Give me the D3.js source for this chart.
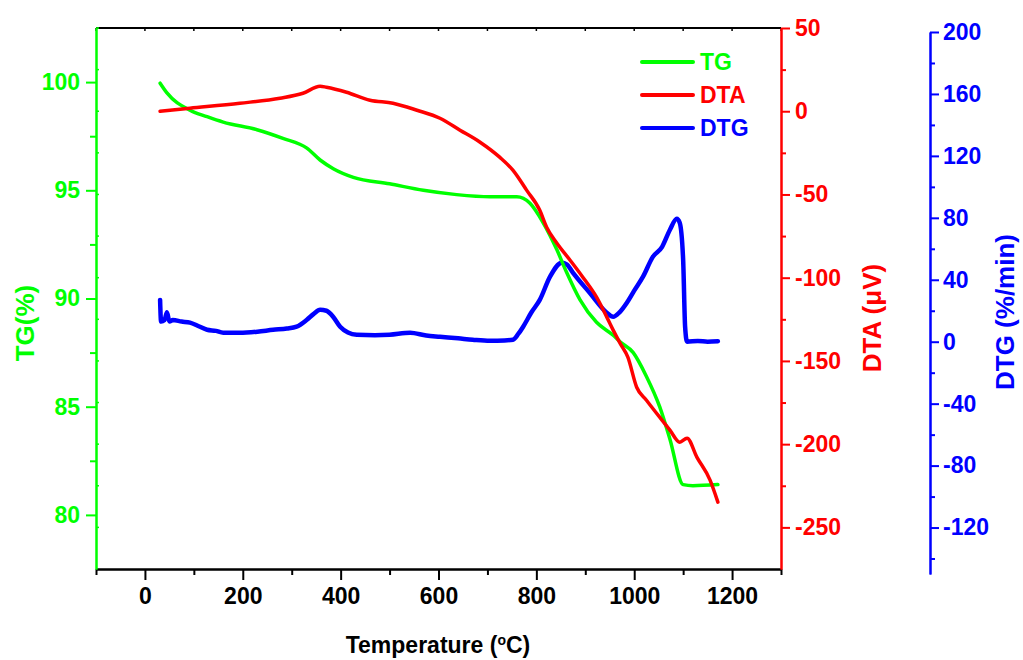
<!DOCTYPE html>
<html>
<head>
<meta charset="utf-8">
<script src="https://cdn.jsdelivr.net/npm/d3@7"></script>
<style>
  html, body { margin: 0; padding: 0; background: #fff; }
  svg { display: block; }
  text { font-family: "Liberation Sans", Arial, sans-serif; font-weight: bold; }
</style>
</head>
<body>
<svg id="chart" width="1023" height="660"></svg>
<script>
// Thermal analysis: TG (mass %), DTA (µV) and DTG (%/min) versus temperature.
const tgTemp   = [31, 45, 92, 127, 160, 229, 282, 331, 358, 385, 426, 500, 569, 637, 705, 760, 787, 814, 842, 862, 889, 923, 957, 971, 998, 1025, 1052, 1073, 1100, 1120, 1171];
const tgValues = [99.95, 99.5, 98.7, 98.4, 98.15, 97.8, 97.4, 96.95, 96.4, 96.0, 95.6, 95.3, 95.0, 94.8, 94.7, 94.7, 94.4, 93.5, 92.25, 91.2, 89.95, 88.9, 88.3, 88.0, 87.5, 86.4, 85.0, 83.5, 81.4, 81.35, 81.4];

const dtaTemp   = [31, 92, 194, 276, 323, 358, 371, 412, 460, 507, 556, 603, 644, 685, 725, 752, 780, 807, 821, 842, 869, 895, 923, 944, 957, 971, 987, 1005, 1025, 1052, 1073, 1093, 1108, 1128, 1155, 1171];
const dtaValues = [0, 1.8, 4.8, 7.8, 10.8, 15, 14.4, 11.4, 6.6, 4.8, 0.6, -4.2, -11.4, -18.6, -27.6, -35.4, -47.4, -59.5, -69.7, -79.3, -89.5, -99.7, -111.7, -123.7, -131.5, -139.3, -147.7, -165.8, -173.6, -183.8, -191.6, -198.8, -196.4, -207.8, -221.6, -234.8];

const dtgTemp   = [31, 33, 40, 45, 50, 57, 75, 92, 110, 127, 145, 160, 194, 230, 262, 290, 310, 331, 345, 358, 371, 385, 399, 415, 433, 470, 500, 542, 575, 603, 640, 670, 705, 735, 752, 763, 773, 790, 807, 828, 852, 862, 875, 909, 944, 957, 970, 985, 1000, 1018, 1038, 1057, 1073, 1087, 1093, 1100, 1104, 1108, 1130, 1150, 1171];
const dtgValues = [27, 13, 14, 19, 13, 14, 13, 12.3, 10, 7.7, 7, 5.8, 5.8, 6.5, 7.7, 8.5, 9.7, 14.2, 18, 20.6, 20, 16, 9.7, 6, 4.5, 4.2, 4.5, 5.8, 4, 3.2, 2.2, 1.3, 0.6, 0.8, 1.3, 5, 9.7, 19, 27, 42, 51, 50, 44.5, 31.6, 18.7, 16.1, 19, 25.2, 33, 42, 54.8, 61.3, 72.3, 79.4, 76.8, 52.9, 9.7, 0, 0.5, 0, 0.3];

const xTicks      = [0, 200, 400, 600, 800, 1000, 1200];
const xMinorTicks = [-100, 100, 300, 500, 700, 900, 1100, 1300];
const tgTicks      = [80, 85, 90, 95, 100];
const tgMinorTicks = [82.5, 87.5, 92.5, 97.5];
const dtaTicks      = [50, 0, -50, -100, -150, -200, -250];
const dtaMinorTicks = [25, -25, -75, -125, -175, -225];
const dtgTicks      = [200, 160, 120, 80, 40, 0, -40, -80, -120];
const dtgMinorTicks = [180, 140, 100, 60, 20, -20, -60, -100, -140];

const GREEN = "#00ff00", RED = "#ff0000", BLUE = "#0000ff";
const fmt = d => String(d); // plain hyphen-minus for negatives

const svg = d3.select("#chart");
const plotL = 96, plotR = 781, plotT = 28, plotB = 569;

const x    = d3.scaleLinear().domain([-100, 1300]).range([plotL, plotR]);
const yTG  = d3.scaleLinear().domain([77.5, 102.5]).range([plotB, plotT]);
const yDTA = d3.scaleLinear().domain([-275, 50]).range([plotB, plotT]);
const yDTG = d3.scaleLinear().domain([-150, 200]).range([574, 32]);

function styleAxis(g, color, fontSize) {
  g.select(".domain").attr("stroke", color).attr("stroke-width", 2);
  g.selectAll(".tick line").attr("stroke", color).attr("stroke-width", 2);
  g.selectAll(".tick text").attr("fill", color).style("font-size", fontSize + "px").style("font-weight", "bold");
}

// top frame line with small inward ticks
svg.append("line").attr("x1", plotL).attr("x2", plotR).attr("y1", plotT).attr("y2", plotT)
  .attr("stroke", "#000").attr("stroke-width", 2);
svg.append("g").selectAll("line").data(xTicks.concat(xMinorTicks)).join("line")
  .attr("x1", d => x(d)).attr("x2", d => x(d)).attr("y1", plotT).attr("y2", plotT + 3)
  .attr("stroke", "#000").attr("stroke-width", 1.5);

// inner ticks on left axis (mirrored DTA scale)
svg.append("g").selectAll("line").data(dtaTicks.concat(dtaMinorTicks)).join("line")
  .attr("x1", plotL).attr("x2", plotL + 3).attr("y1", d => yDTA(d)).attr("y2", d => yDTA(d))
  .attr("stroke", GREEN).attr("stroke-width", 1.5);

// X axis
const gxMinor = svg.append("g").attr("transform", `translate(0,${plotB})`)
  .call(d3.axisBottom(x).tickValues(xMinorTicks).tickSize(6).tickSizeOuter(0).tickFormat(""));
styleAxis(gxMinor, "#000", 23);
const gx = svg.append("g").attr("transform", `translate(0,${plotB})`)
  .call(d3.axisBottom(x).tickValues(xTicks).tickSize(11).tickSizeOuter(0).tickPadding(8).tickFormat(fmt));
styleAxis(gx, "#000", 23);

// TG axis (left)
const gtMinor = svg.append("g").attr("transform", `translate(${plotL},0)`)
  .call(d3.axisLeft(yTG).tickValues(tgMinorTicks).tickSize(6).tickSizeOuter(0).tickFormat(""));
styleAxis(gtMinor, GREEN, 23);
const gt = svg.append("g").attr("transform", `translate(${plotL},0)`)
  .call(d3.axisLeft(yTG).tickValues(tgTicks).tickSize(10).tickSizeOuter(0).tickPadding(6).tickFormat(fmt));
styleAxis(gt, GREEN, 23);

// DTA axis (right)
const gdMinor = svg.append("g").attr("transform", `translate(${plotR},0)`)
  .call(d3.axisRight(yDTA).tickValues(dtaMinorTicks).tickSize(5).tickSizeOuter(0).tickFormat(""));
styleAxis(gdMinor, RED, 23);
const gd = svg.append("g").attr("transform", `translate(${plotR},0)`)
  .call(d3.axisRight(yDTA).tickValues(dtaTicks).tickSize(9).tickSizeOuter(0).tickPadding(5).tickFormat(fmt));
styleAxis(gd, RED, 23);

// DTG axis (offset right)
const dtgX = 930;
const ggMinor = svg.append("g").attr("transform", `translate(${dtgX},0)`)
  .call(d3.axisRight(yDTG).tickValues(dtgMinorTicks).tickSize(5).tickSizeOuter(0).tickFormat(""));
styleAxis(ggMinor, BLUE, 23);
const gg = svg.append("g").attr("transform", `translate(${dtgX},0)`)
  .call(d3.axisRight(yDTG).tickValues(dtgTicks).tickSize(9).tickSizeOuter(0).tickPadding(4).tickFormat(fmt));
styleAxis(gg, BLUE, 23);

// Axis titles
const xt = svg.append("text").attr("x", 438).attr("y", 653).attr("text-anchor", "middle")
  .attr("fill", "#000").style("font-size", "23px");
xt.append("tspan").text("Temperature (");
xt.append("tspan").attr("dy", -8).style("font-size", "14px").text("o");
xt.append("tspan").attr("dy", 8).text("C)");

svg.append("text").attr("transform", "translate(34,323) rotate(-90)").attr("text-anchor", "middle")
  .attr("fill", GREEN).style("font-size", "26px").text("TG(%)");
svg.append("text").attr("transform", "translate(881,318) rotate(-90)").attr("text-anchor", "middle")
  .attr("fill", RED).style("font-size", "26px").text("DTA (μV)");
svg.append("text").attr("transform", "translate(1014,312) rotate(-90)").attr("text-anchor", "middle")
  .attr("fill", BLUE).style("font-size", "26px").text("DTG (%/min)");

// Curves
const line = (xs, ys, yScale) => d3.line()
  .x((d, i) => x(xs[i])).y(d => yScale(d))
  .curve(d3.curveMonotoneX)(ys);

svg.append("path").attr("d", line(dtgTemp, dtgValues, yDTG))
  .attr("fill", "none").attr("stroke", BLUE).attr("stroke-width", 4.5)
  .attr("stroke-linejoin", "round").attr("stroke-linecap", "round");
svg.append("path").attr("d", line(tgTemp, tgValues, yTG))
  .attr("fill", "none").attr("stroke", GREEN).attr("stroke-width", 3.5)
  .attr("stroke-linejoin", "round").attr("stroke-linecap", "round");
svg.append("path").attr("d", line(dtaTemp, dtaValues, yDTA))
  .attr("fill", "none").attr("stroke", RED).attr("stroke-width", 3.5)
  .attr("stroke-linejoin", "round").attr("stroke-linecap", "round");

// Legend
const legendItems = [
  { name: "TG", color: GREEN, y: 62 },
  { name: "DTA", color: RED, y: 95 },
  { name: "DTG", color: BLUE, y: 128 }
];
const lg = svg.append("g");
lg.selectAll("line").data(legendItems).join("line")
  .attr("x1", 642).attr("x2", 693).attr("y1", d => d.y).attr("y2", d => d.y)
  .attr("stroke", d => d.color).attr("stroke-width", 4).attr("stroke-linecap", "round");
lg.selectAll("text").data(legendItems).join("text")
  .attr("x", 700).attr("y", d => d.y + 8).attr("fill", d => d.color)
  .style("font-size", "23px").text(d => d.name);
</script>
</body>
</html>
